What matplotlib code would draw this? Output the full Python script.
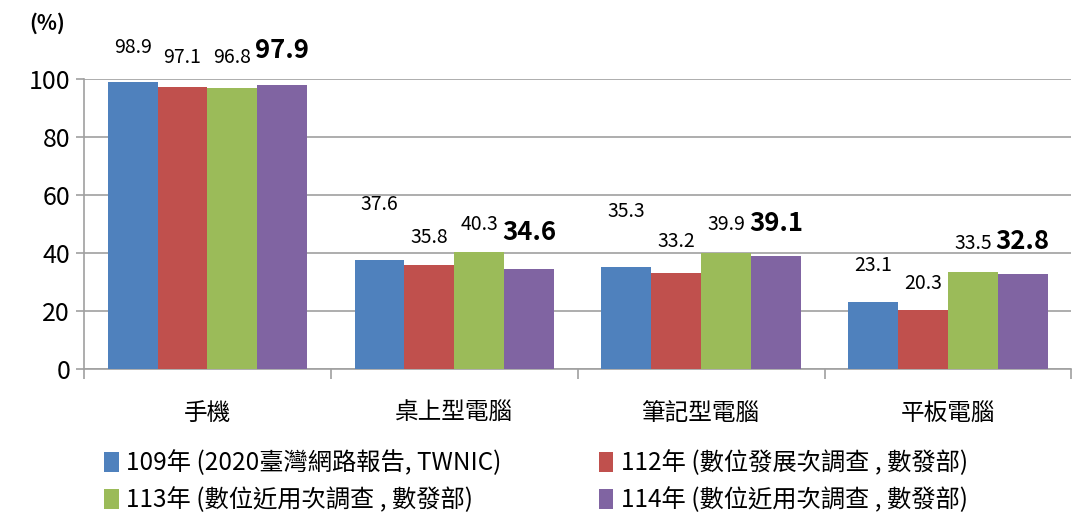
import numpy as np
import matplotlib.pyplot as plt
from matplotlib.ticker import MultipleLocator

plt.rcParams['font.family'] = ['Noto Sans CJK TC', 'DejaVu Sans']

# datos del gráfico
categorias = ['手機', '桌上型電腦', '筆記型電腦', '平板電腦']
series = ['109年 (2020臺灣網路報告, TWNIC)', '112年 (數位發展次調查 , 數發部)',
          '113年 (數位近用次調查 , 數發部)', '114年 (數位近用次調查 , 數發部)']
v109 = [98.9, 37.6, 35.3, 23.1]
v112 = [97.1, 35.8, 33.2, 20.3]
v113 = [96.8, 40.3, 39.9, 33.5]
v114 = [97.9, 34.6, 39.1, 32.8]
valores = [v109, v112, v113, v114]

colores = ['#4F81BD', '#C0504D', '#9BBB59', '#8064A2']
# desplazamiento vertical (px) de cada etiqueta sobre su barra
desp = [[35, 55, 55, 36],
        [30, 28, 31, 27],
        [31, 28, 29, 28],
        [35, 36, 32, 32]]

fig = plt.figure(figsize=(10.72, 5.17), dpi=100)
ax = fig.add_axes([0.0784, 0.2863, 0.921, 0.5609])

x = np.arange(len(categorias))
w = 0.202
barras = []
for i, (vals, nombre) in enumerate(zip(valores, series)):
    pos = x + (i - 1.5) * w
    b = ax.bar(pos, vals, width=w, color=colores[i], label=nombre, zorder=3)
    barras.append(b)
    negrita = (i == 3)
    for xp, v, d in zip(pos, vals, desp[i]):
        ax.annotate(f'{v}', (xp, v), xytext=(0, d * 0.72), textcoords='offset points',
                    ha='center', va='center', fontsize=18.5 if negrita else 14,
                    fontweight='bold' if negrita else 'normal', color='black')

ax.set_xlim(-0.5, 3.5)
ax.set_ylim(0, 100)
ax.yaxis.set_major_locator(MultipleLocator(20))
ax.grid(axis='y', color='#a0a0a0', linewidth=1.2, zorder=0)
ax.tick_params(axis='y', labelsize=18, length=6, color='#a0a0a0', width=1.2, pad=4)

ax.set_xticks(x)
ax.set_xticklabels(categorias, fontsize=17)
ax.set_xticks(np.arange(-0.5, 4, 1), minor=True)
ax.tick_params(axis='x', which='major', length=0, pad=24)
ax.tick_params(axis='x', which='minor', length=7, color='#a0a0a0', width=1.2)

for s in ['top', 'right']:
    ax.spines[s].set_visible(False)
for s in ['left', 'bottom']:
    ax.spines[s].set_color('#a0a0a0')
    ax.spines[s].set_linewidth(1.2)

fig.text(0.044, 0.955, '(%)', fontsize=15, fontweight='bold', ha='center', va='center')

# orden por filas como en el original
orden = [0, 2, 1, 3]
fig.legend([barras[k] for k in orden], [series[k] for k in orden],
           loc='lower left', bbox_to_anchor=(0.077, -0.035), ncol=2, frameon=False,
           fontsize=17.5, handlelength=0.6, handleheight=0.9, handletextpad=0.3,
           columnspacing=4.0, labelspacing=0.45)

fig.savefig('out.png', dpi=100)
